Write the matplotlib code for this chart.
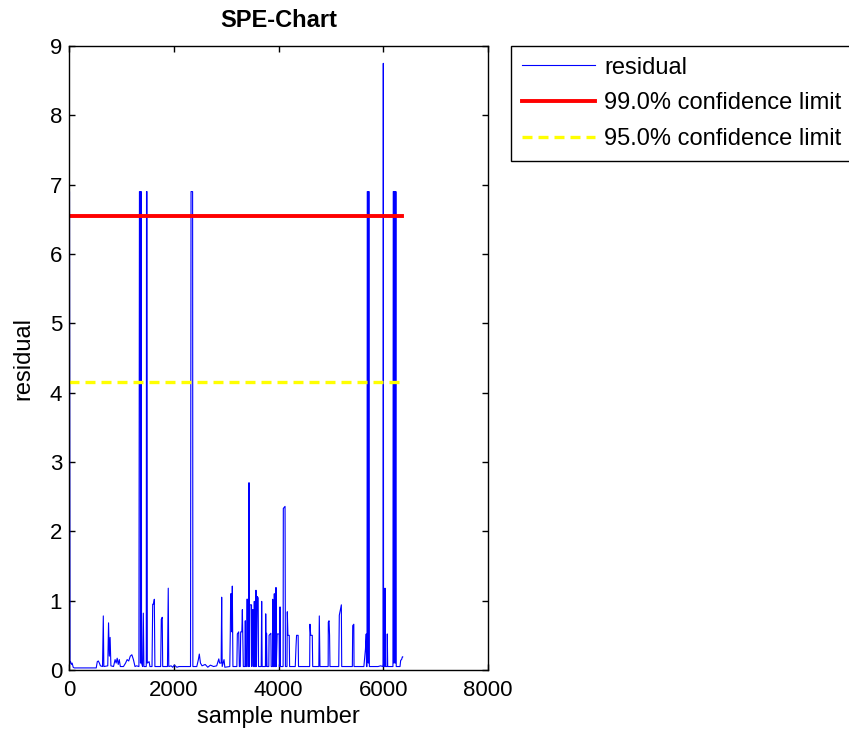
import numpy as np
import matplotlib.pyplot as plt

plt.rcParams['font.family'] = ['Liberation Sans', 'DejaVu Sans']

# residual trace, vertices (sample number, residual)
sample = [
    0, 10, 20, 30, 45, 60, 80, 100, 300, 520, 540, 560, 580, 600,
    640, 655, 665, 740, 755, 770, 785, 800,
    850, 880, 900, 920, 940, 960, 980,
    1040, 1080, 1110, 1140, 1170, 1200, 1230, 1260, 1290,
    1335, 1345, 1360, 1365, 1370, 1380, 1385,
    1405, 1419, 1430, 1475, 1480, 1490, 1495, 1530, 1545,
    1585, 1598, 1615, 1629, 1640, 1750, 1762, 1780, 1789,
    1880, 1895, 1905, 1950, 1980, 2010, 2060, 2100,
    2320, 2330, 2360, 2365,
    2440, 2470, 2488, 2510, 2540, 2600, 2650, 2700, 2760, 2820,
    2860, 2875, 2905, 2915, 2925, 2960, 2975,
    3070, 3080, 3087, 3100, 3110, 3118, 3130,
    3205, 3214, 3240, 3252, 3270, 3278, 3300, 3310, 3328,
    3360, 3366, 3372, 3390, 3395, 3410, 3415,
    3428, 3432, 3442, 3446, 3455, 3485, 3490, 3500, 3515, 3520,
    3535, 3538, 3545, 3565, 3570, 3578, 3595, 3612, 3618,
    3670, 3679, 3688, 3750, 3756, 3765, 3772, 3780,
    3815, 3820, 3855, 3860, 3885, 3889, 3895, 3915, 3920, 3926,
    3948, 3952, 3958, 3975, 4012, 4016, 4025, 4029, 4035,
    4088, 4092, 4125, 4132, 4162, 4168, 4180, 4205, 4212,
    4320, 4335, 4345, 4375, 4382,
    4595, 4601, 4615, 4645, 4653, 4770, 4779, 4792,
    4948, 4951, 4965, 4975, 4983, 5150, 5161, 5200, 5207,
    5410, 5417, 5438, 5442, 5630, 5660, 5675, 5680,
    5690, 5695, 5710, 5715, 5720, 5730, 5735,
    5900, 5950, 5995, 6001, 6006, 6028, 6033, 6040, 6072, 6077, 6085,
    6185, 6191, 6200, 6205, 6215, 6225, 6230, 6238, 6243, 6248,
    6320, 6333, 6350, 6365, 6371,
]
residual = [
    6.9, 6.9, 0.1, 0.12, 0.08, 0.1, 0.04, 0.03, 0.03, 0.03, 0.12, 0.13, 0.1, 0.06,
    0.05, 0.78, 0.05, 0.06, 0.68, 0.2, 0.47, 0.06,
    0.05, 0.15, 0.1, 0.17, 0.08, 0.15, 0.05,
    0.05, 0.1, 0.15, 0.13, 0.2, 0.22, 0.15, 0.05, 0.06,
    0.05, 6.9, 6.9, 0.1, 6.9, 6.9, 0.1,
    0.05, 0.82, 0.05, 0.05, 6.9, 6.9, 0.1, 0.12, 0.05,
    0.05, 0.95, 0.95, 1.02, 0.05, 0.05, 0.73, 0.76, 0.05,
    0.05, 1.18, 0.05, 0.06, 0.04, 0.07, 0.04, 0.05,
    0.05, 6.9, 6.9, 0.05,
    0.05, 0.15, 0.23, 0.1, 0.06, 0.08, 0.04, 0.07, 0.05, 0.06,
    0.16, 0.1, 0.1, 1.05, 0.05, 0.15, 0.04,
    0.05, 0.55, 1.1, 1.1, 0.55, 1.21, 0.05,
    0.05, 0.52, 0.55, 0.05, 0.05, 0.55, 0.55, 0.87, 0.05,
    0.05, 0.71, 0.05, 0.05, 1.02, 1.02, 0.05,
    0.05, 2.7, 2.7, 0.05, 0.94, 0.94, 0.05, 0.87, 0.87, 0.05,
    0.05, 0.99, 0.05, 0.05, 1.15, 0.05, 1.06, 1.04, 0.05,
    0.05, 0.99, 0.05, 0.05, 0.81, 0.05, 0.53, 0.05,
    0.05, 0.5, 0.53, 0.05, 0.05, 1.02, 0.05, 0.05, 1.1, 0.05,
    0.05, 1.19, 0.05, 0.52, 0.52, 0.05, 0.05, 0.91, 0.05,
    0.05, 2.33, 2.36, 0.05, 0.05, 0.84, 0.5, 0.5, 0.05,
    0.05, 0.35, 0.5, 0.5, 0.05,
    0.05, 0.66, 0.5, 0.5, 0.05, 0.05, 0.78, 0.05,
    0.05, 0.69, 0.71, 0.5, 0.05, 0.05, 0.79, 0.94, 0.05,
    0.05, 0.64, 0.66, 0.05, 0.05, 0.3, 0.52, 0.05,
    0.05, 6.9, 6.9, 0.1, 6.9, 6.9, 0.05,
    0.05, 0.06, 0.05, 8.75, 0.05, 0.05, 1.18, 0.05, 0.05, 0.52, 0.05,
    0.05, 6.9, 6.9, 0.1, 6.9, 6.9, 0.1, 6.9, 6.9, 0.05,
    0.05, 0.14, 0.15, 0.19, 0.19,
]

limit_99 = 6.55
limit_95 = 4.15
limit_x = [1, 6350]

fs = 17      # labels, title, legend
fs_tick = 16

fig = plt.figure(figsize=(8.49, 7.37), dpi=100)
ax = fig.add_axes([69/849, 67/737, 419/849, 624/737])

l1, = ax.plot(sample, residual, color=(0, 0, 1), linewidth=0.8, label="residual")
l2, = ax.plot(limit_x, [limit_99, limit_99], color=(1, 0, 0), linewidth=2.8,
              label="99.0% confidence limit")
l3, = ax.plot(limit_x, [limit_95, limit_95], color=(1, 1, 0), linewidth=2.4,
              linestyle=(0, (3.0, 1.8)), label="95.0% confidence limit")

ax.set_xlim(0, 8000)
ax.set_ylim(0, 9)
ax.set_xticks([0, 2000, 4000, 6000, 8000])
ax.set_yticks(range(10))
ax.tick_params(direction="in", top=True, right=True, length=4, width=1,
               labelsize=fs_tick)
ax.tick_params(axis="x", pad=7)
ax.tick_params(axis="y", pad=5)
for s in ax.spines.values():
    s.set_linewidth(1.0)

ax.set_title("SPE-Chart", fontsize=fs, fontweight="bold", pad=14)
ax.set_xlabel("sample number", fontsize=fs, labelpad=4)
ax.set_ylabel("residual", fontsize=fs, labelpad=11)

fig.legend(handles=[l1, l2, l3], loc="upper left",
           bbox_to_anchor=(511/849, 1 - 46/737), fontsize=fs,
           frameon=True, fancybox=False, edgecolor="black", framealpha=1,
           handlelength=3.1, handletextpad=0.4, labelspacing=0.58,
           borderpad=0.45, borderaxespad=0)

fig.savefig("out.png", dpi=100)
